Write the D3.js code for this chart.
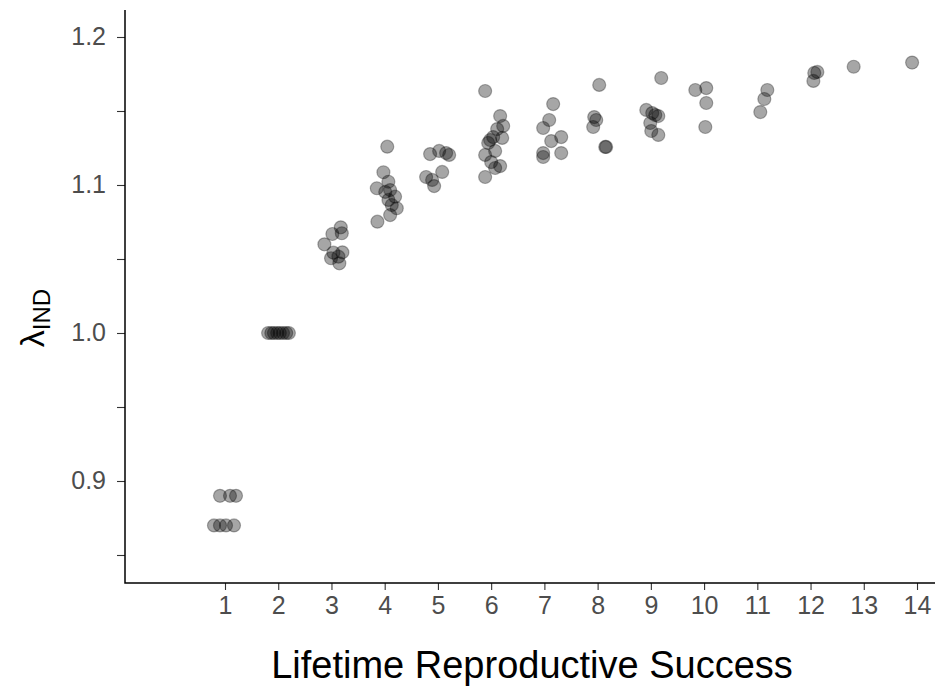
<!DOCTYPE html>
<html><head><meta charset="utf-8">
<script src="https://cdn.jsdelivr.net/npm/d3@7"></script>
<style>body{margin:0;background:#fff}</style>
</head><body>
<svg id="c" width="938" height="689"></svg>
<script>
// Lifetime reproductive success (jittered x) and lambda_IND values
const lrsX = [
  0.906,1.094,1.207, 0.793,0.906,1.019,1.169,
  1.81,1.87,1.92,1.98,2.03,2.09,2.15,2.20,
  3.175,3.017,3.194,2.867,3.036,3.205,2.992,3.148,3.130,
  4.048,3.976,4.069,3.852,4.102,4.195,4.133,4.227,4.102,3.863,4.01,4.07,
  4.853,5.023,5.154,5.211,4.778,4.891,4.929,5.080,
  5.887,6.169,6.226,6.113,6.207,5.981,5.944,6.038,6.075,5.887,6.0,6.169,6.075,5.887,
  7.165,7.090,6.977,7.128,7.316,6.977,6.977,7.316,
  8.030,7.936,7.974,7.917,8.143,8.16,
  9.195,8.914,9.026,9.083,9.14,8.989,9.008,9.14,
  9.835,10.041,10.041,10.023,
  11.188,11.132,11.056,
  12.128,12.07,12.053,
  12.81,
  13.908
];
const lambdaInd = [
  0.89,0.89,0.89, 0.87,0.87,0.87,0.87,
  1.0,1.0,1.0,1.0,1.0,1.0,1.0,1.0,
  1.0714,1.0669,1.0674,1.0599,1.0543,1.0545,1.0505,1.0471,1.0516,
  1.1259,1.1086,1.1022,1.0978,1.0966,1.0921,1.0865,1.0843,1.0797,1.0752,1.0953,1.0899,
  1.1209,1.1230,1.1216,1.1203,1.1054,1.1034,1.0993,1.1088,
  1.1635,1.1466,1.1399,1.1378,1.1318,1.1304,1.1284,1.1324,1.1230,1.1203,1.1155,1.1128,1.1115,1.1054,
  1.1547,1.1439,1.1385,1.1297,1.1324,1.1216,1.1189,1.1216,
  1.1676,1.1459,1.1439,1.1392,1.1257,1.1257,
  1.1723,1.1507,1.1486,1.1473,1.1466,1.1419,1.1365,1.1338,
  1.1642,1.1655,1.1554,1.1392,
  1.1642,1.1581,1.1493,
  1.1764,1.1757,1.1703,
  1.1799,
  1.1827
];
const xTicks = [1,2,3,4,5,6,7,8,9,10,11,12,13,14];
const yTicks = [0.85,0.9,0.95,1.0,1.05,1.1,1.15,1.2];
const yLabeled = [0.9,1.0,1.1,1.2];

const svg = d3.select("#c");
const L = 125, R = 935, T = 10, B = 583;
const x = d3.scaleLinear().domain([-0.8786, 14.338]).range([L, R]);
const y = d3.scaleLinear().domain([0.83108, 1.21824]).range([B, T]);

// points
svg.append("g").selectAll("circle").data(lrsX.map((d,i)=>[d,lambdaInd[i]]))
  .join("circle")
  .attr("cx", d=>x(d[0])).attr("cy", d=>y(d[1])).attr("r", 6.5)
  .attr("fill", "#000").attr("fill-opacity", 0.35)
  .attr("stroke", "#000").attr("stroke-opacity", 0.3).attr("stroke-width", 1.2);

// axes
const FONT = "Liberation Sans, Arial, sans-serif";
const fmt = d => yLabeled.some(v=>Math.abs(v-d)<1e-9) ? d3.format(".1f")(d) : "";
const ya = svg.append("g").attr("transform", `translate(${L},0)`)
  .call(d3.axisLeft(y).tickValues(yTicks).tickFormat(fmt).tickSize(8).tickSizeOuter(0).tickPadding(11));
const xa = svg.append("g").attr("transform", `translate(0,${B})`)
  .call(d3.axisBottom(x).tickValues(xTicks).tickFormat(d3.format("d")).tickSize(7).tickSizeOuter(0).tickPadding(6));
[ya, xa].forEach(a => {
  a.select(".domain").remove();
  a.selectAll(".tick line").attr("stroke", "#333").attr("stroke-width", 1.1);
  a.selectAll(".tick text").attr("fill", "#4d4d4d").style("font-family", FONT).style("font-size", "25px");
});
svg.append("path").attr("d", `M${L},${T}V${B}H${R}`).attr("fill", "none").attr("stroke", "#000").attr("stroke-width", 1.5);

// titles
svg.append("text").attr("x", 532).attr("y", 678).attr("text-anchor", "middle")
  .style("font-family", FONT).style("font-size", "38px").attr("fill", "#000")
  .text("Lifetime Reproductive Success");
const yl = svg.append("text").attr("transform", "translate(44,318) rotate(-90)").attr("text-anchor", "middle")
  .style("font-family", FONT).attr("fill", "#000");
yl.append("tspan").style("font-size", "34px").text("λ");
yl.append("tspan").style("font-size", "24px").attr("dy", 6).text("IND");
</script>
</body></html>
